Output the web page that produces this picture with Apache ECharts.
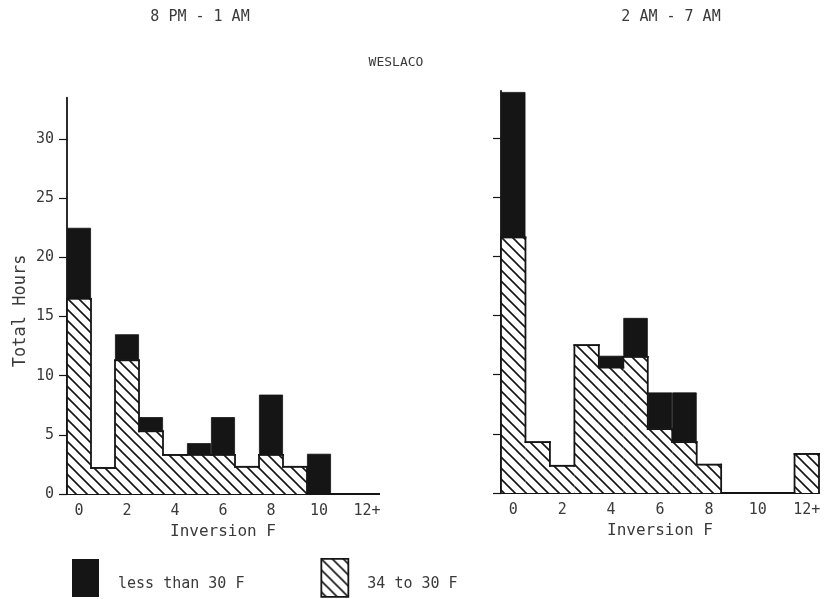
<!DOCTYPE html>
<html><head><meta charset="utf-8">
<script src="https://cdn.jsdelivr.net/npm/echarts@6/dist/echarts.min.js"></script>
<style>html,body{margin:0;padding:0;background:#fff}#c{width:825px;height:599px}</style>
</head><body><div id="c"></div>
<script>
const categories = ['0','1','2','3','4','5','6','7','8','9','10','11','12+'];
const leftTitle = '8 PM - 1 AM';
const rightTitle = '2 AM - 7 AM';
const mainTitle = 'WESLACO';
const yTicks = [0,5,10,15,20,25,30];
// "34 to 30 F" (hatched) and "less than 30 F" (black, stacked on top)
const left3430 = [16.5, 2.2, 11.3, 5.3, 3.3, 3.3, 3.3, 2.3, 3.3, 2.3, 0, 0, 0];
const leftBelow30 = [6.0, 0, 2.2, 1.2, 0, 1.0, 3.2, 0, 5.1, 0, 3.4, 0, 0];
const right3430 = [21.6, 4.3, 2.3, 12.5, 10.6, 11.5, 5.4, 4.3, 2.4, 0, 0, 0, 3.3];
const rightBelow30 = [12.3, 0, 0, 0, 1.0, 3.3, 3.1, 4.2, 0, 0, 0, 0, 0];

const INK = '#151515';
const TXT = '#3a3a3a';
const FONT = 'DejaVu Sans Mono';
function hatch(){
  const s = 11, c = document.createElement('canvas');
  c.width = c.height = s;
  const g = c.getContext('2d');
  g.fillStyle = '#fff'; g.fillRect(0,0,s,s);
  g.strokeStyle = INK; g.lineWidth = 1.6;
  g.beginPath();
  g.moveTo(-1,-1); g.lineTo(s+1,s+1);
  g.moveTo(-2,s-2); g.lineTo(2,s+2);
  g.moveTo(s-2,-2); g.lineTo(s+2,2);
  g.stroke();
  return c;
}
const hatchFill = {image: hatch(), repeat: 'repeat'};

const chart = echarts.init(document.getElementById('c'), null, {renderer:'canvas'});
function xAxis(idx){
  return {
    type:'category', gridIndex: idx, data: categories, boundaryGap: true,
    axisLine:{lineStyle:{color:INK, width:2}},
    axisTick:{show:false},
    axisLabel:{interval:1, margin:10, color:TXT, fontFamily:FONT, fontSize:15},
    name:'Inversion F', nameLocation:'middle', nameGap:28,
    nameTextStyle:{color:TXT, fontFamily:FONT, fontSize:16}
  };
}
function yAxis(idx, max, labels){
  return {
    type:'value', gridIndex: idx, min:0, max:max, interval:5,
    splitLine:{show:false},
    axisLine:{show:true, lineStyle:{color:INK, width:1.8}},
    axisTick:{show:true, length:8, customValues: yTicks, lineStyle:{color:INK, width:1.2}},
    axisLabel:{show:labels, customValues: yTicks, margin:13, color:TXT, fontFamily:FONT, fontSize:15},
    name: labels ? 'Total Hours' : '', nameLocation:'middle', nameGap:38, nameRotate:90,
    nameTextStyle:{color:TXT, fontFamily:FONT, fontSize:17, padding:[0,30,0,0]}
  };
}
function outline(idx, h){
  const data = h.map((v,i)=>[i, v, i>0 ? h[i-1] : 0]);
  const st = {stroke:INK, lineWidth:1.8, lineCap:'square'};
  return {
    type:'custom', xAxisIndex:idx, yAxisIndex:idx, data:data, z:5, silent:true,
    renderItem:function(params, api){
      const i = api.value(0), v = api.value(1), p = api.value(2);
      const w = api.size([1,0])[0];
      const c = api.coord([i, v]);
      const cp = api.coord([i, p]);
      const x0 = c[0]-w/2, x1 = c[0]+w/2;
      const ch = [
        {type:'line', shape:{x1:x0, y1:c[1], x2:x1, y2:c[1]}, style:st},
        {type:'line', shape:{x1:x0, y1:cp[1], x2:x0, y2:c[1]}, style:st}
      ];
      if (i === h.length-1) {
        const c0 = api.coord([i, 0]);
        ch.push({type:'line', shape:{x1:x1, y1:c[1], x2:x1, y2:c0[1]}, style:st});
      }
      return {type:'group', children:ch};
    }
  };
}
function bars(idx, hatched, black){
  return [
    {type:'bar', name:'34 to 30 F', xAxisIndex:idx, yAxisIndex:idx, stack:'s'+idx, data:hatched,
     barCategoryGap:'0%', itemStyle:{color:hatchFill, borderWidth:0}},
    {type:'bar', name:'less than 30 F', xAxisIndex:idx, yAxisIndex:idx, stack:'s'+idx, data:black,
     barCategoryGap:'0%', itemStyle:{color:INK, borderColor:INK, borderWidth:0.8}},
    outline(idx, hatched)
  ];
}
chart.setOption({
  animation:false,
  backgroundColor:'#fff',
  graphic:[
    {type:'text', x:200, y:10, style:{text:leftTitle, fill:TXT, font:'15px "'+FONT+'"', align:'center'}},
    {type:'text', x:671, y:10, style:{text:rightTitle, fill:TXT, font:'15px "'+FONT+'"', align:'center'}},
    {type:'text', x:396, y:56, style:{text:mainTitle, fill:TXT, font:'13px "'+FONT+'"', align:'center'}}
  ],
  legend:{
    left:67, top:553, itemWidth:27, itemHeight:38, itemGap:76, icon:'rect',
    formatter:'{a|{name}}',
    textStyle:{color:TXT, fontFamily:FONT, fontSize:15, padding:[0,0,0,14],
      rich:{a:{color:TXT, fontFamily:FONT, fontSize:15, padding:[12,0,0,0]}}},
    data:[
      {name:'less than 30 F', itemStyle:{color:INK, borderWidth:0}},
      {name:'34 to 30 F', itemStyle:{color:hatchFill, borderColor:INK, borderWidth:1.8}}
    ],
    selectedMode:false
  },
  grid:[
    {left:67, width:312, top:97.7, bottom:105},
    {left:501, width:318, top:90.8, bottom:106}
  ],
  xAxis:[xAxis(0), xAxis(1)],
  yAxis:[yAxis(0, 33.5, true), yAxis(1, 34, false)],
  series:[...bars(0, left3430, leftBelow30), ...bars(1, right3430, rightBelow30)]
});
</script></body></html>
